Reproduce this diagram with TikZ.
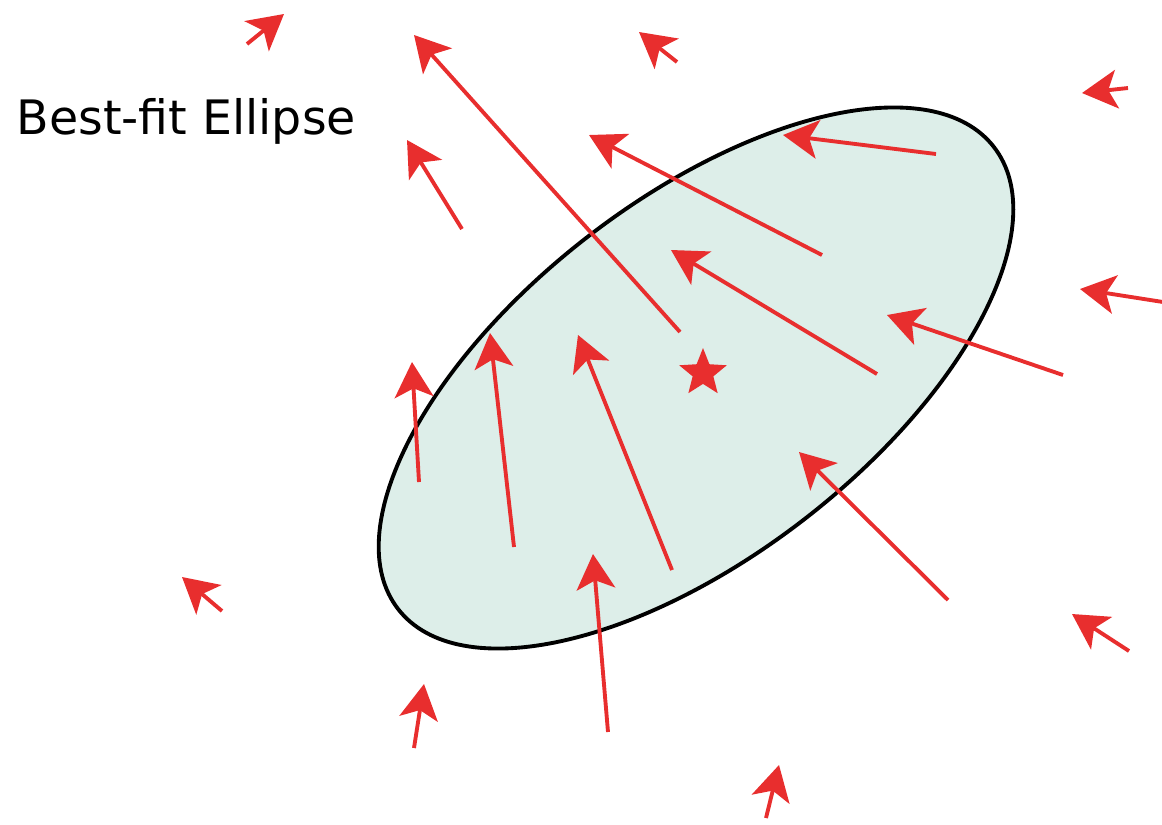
\documentclass[tikz,border=0pt]{standalone}
\usepackage{fontspec}
\setsansfont{DejaVu Sans}
\usetikzlibrary{arrows.meta,shapes.geometric}
\definecolor{fieldred}{RGB}{232,46,46}
\definecolor{blobfill}{RGB}{221,238,233}

\begin{document}
\begin{tikzpicture}[x=0.1mm, y=-0.1mm,
  vec/.style={draw=fieldred, line width=1.1pt, -{Stealth[length=10pt, width=11pt, inset=2.5pt]}},
  blob/.style={draw=black, line width=1.1pt, fill=blobfill}
]
\useasboundingbox (0,0) rectangle (1162,824);
% best-fit ellipse
\draw[blob, shift={(696,378)}, rotate=37.8] (0,0) ellipse [x radius=377, y radius=178];
\node[anchor=base west, inner sep=0pt, font=\sffamily\fontsize{13.5}{16}\selectfont] (title) at (16,134) {Best-fit Ellipse};
% displacement vectors (tail / head)
\foreach \tx/\ty/\hx/\hy in {
  247/44/284/14, 680/332/414/35, 462/229/407/140, 419/482/412/362,
  514/547/490/333, 672/570/578/335, 608/732/593/554, 414/748/424/684,
  222/611/182/577, 766/818/779/765, 948/600/799/452, 1129/651/1072/614,
  1063/375/887/315, 1163/302/1080/289, 1128/88/1082/93, 677/62/639/32,
  936/154/783/135, 822/255/589/135, 877/374/671/250}
  \draw[vec] (\tx,\ty) -- (\hx,\hy);
\node[star, star points=5, star point ratio=2.3, fill=fieldred, inner sep=0pt, minimum size=0.5cm] (centroid) at (703,373) {};
\end{tikzpicture}
\end{document}
